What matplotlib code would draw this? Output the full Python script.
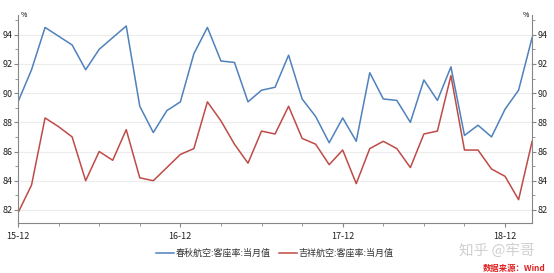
import matplotlib.pyplot as plt
from matplotlib.ticker import MultipleLocator, FixedLocator

plt.rcParams['font.family'] = ['Noto Sans CJK SC', 'DejaVu Sans']

# monthly, 2015-12 .. 2019-02
spring = [89.4, 91.6, 94.5, 93.9, 93.3, 91.6, 93.0, 93.8, 94.6, 89.1,
          87.3, 88.8, 89.4, 92.7, 94.5, 92.2, 92.1, 89.4, 90.2, 90.4,
          92.6, 89.6, 88.4, 86.6, 88.3, 86.7, 91.4, 89.6, 89.5, 88.0,
          90.9, 89.5, 91.8, 87.1, 87.8, 87.0, 88.9, 90.2, 93.8]
juneyao = [81.8, 83.7, 88.3, 87.7, 87.0, 84.0, 86.0, 85.4, 87.5, 84.2,
           84.0, 84.9, 85.8, 86.2, 89.4, 88.1, 86.5, 85.2, 87.4, 87.2,
           89.1, 86.9, 86.5, 85.1, 86.1, 83.8, 86.2, 86.7, 86.2, 84.9,
           87.2, 87.4, 91.2, 86.1, 86.1, 84.8, 84.3, 82.7, 86.7]
tick_pos = [0, 12, 24, 36]
tick_labels = ['15-12', '16-12', '17-12', '18-12']
names = ['春秋航空:客座率:当月值', '吉祥航空:客座率:当月值']

fig = plt.figure(figsize=(5.54, 2.73), dpi=100)
ax = fig.add_axes([0.0325, 0.183, 0.928, 0.762])

x = range(len(spring))
ax.plot(x, spring, color='#4f81bd', lw=1.1, label=names[0])
ax.plot(x, juneyao, color='#be4b48', lw=1.1, label=names[1])

ax.set_xlim(0, 38)
ax.set_ylim(81.1, 95.35)
ax.yaxis.set_major_locator(MultipleLocator(2))
ax.yaxis.set_minor_locator(MultipleLocator(1))
ax.xaxis.set_major_locator(FixedLocator(tick_pos))
ax.xaxis.set_minor_locator(MultipleLocator(3))
ax.set_xticklabels(tick_labels)

ax.grid(True, axis='y', color='#ececec', lw=0.8)
ax.set_axisbelow(True)
for s in ['left', 'right', 'bottom']:
    ax.spines[s].set_color('#868686')
    ax.spines[s].set_linewidth(0.8)
ax.spines['top'].set_visible(False)

ax.tick_params(axis='both', which='both', colors='#868686', labelcolor='#222222',
               labelsize=6.5, direction='out')
ax.tick_params(axis='y', which='both', left=True, right=True,
               labelleft=True, labelright=True, pad=1)
ax.tick_params(which='major', length=3)
ax.tick_params(which='minor', length=2)

ax.text(0.005, 1.0, '%', transform=ax.transAxes, fontsize=5, va='center', ha='left')
ax.text(0.995, 1.0, '%', transform=ax.transAxes, fontsize=5, va='center', ha='right')

leg = fig.legend(loc='center', bbox_to_anchor=(0.496, 0.073), ncol=2, frameon=False,
                 fontsize=6.5, handlelength=2.0, columnspacing=0.9, handletextpad=0.2)
for t in leg.get_texts():
    t.set_color('#333333')

fig.text(0.896, 0.084, '知乎 @牢哥', fontsize=10.5, color='#d0d0d0', ha='center', va='center')
fig.text(0.985, 0.018, '数据来源：Wind', fontsize=6, color='#e02020', style='italic',
         weight='bold', ha='right', va='center')

fig.savefig('out.png', dpi=100)
